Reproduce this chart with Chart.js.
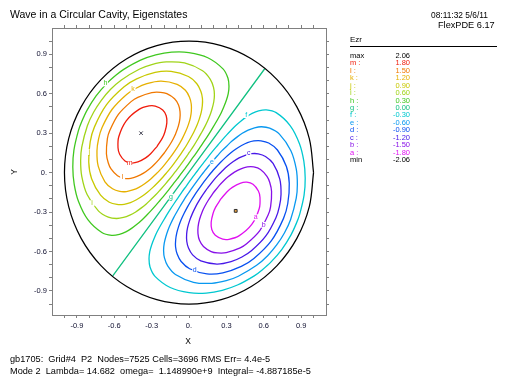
<!DOCTYPE html>
<html><head><meta charset="utf-8">
<script src="https://cdn.jsdelivr.net/npm/chart.js@4/dist/chart.umd.min.js"></script>
<style>html,body{margin:0;padding:0;background:#fff;}canvas{display:block;}</style>
</head><body>
<canvas id="c" width="512" height="384"></canvas>
<script>
const titleText = 'Wave in a Circular Cavity, Eigenstates';
const stampLines = ['08:11:32 5/6/11', 'FlexPDE 6.17'];
const footerLines = ['gb1705:  Grid#4  P2  Nodes=7525 Cells=3696 RMS Err= 4.4e-5',
                     'Mode 2  Lambda= 14.682  omega=  1.148990e+9  Integral= -4.887185e-5'];
const xTitle = 'X', yTitle = 'Y';
const legendTitle = 'Ezr';
const fieldMax = '2.06', fieldMin = '-2.06';
const levelLetters = ['m','l','k','j','i','h','g','f','e','d','c','b','a'];
const levelValues = ['1.80','1.50','1.20','0.90','0.60','0.30','0.00','-0.30','-0.60','-0.90','-1.20','-1.50','-1.80'];
const levelColors = ['#f01c0c','#f07800','#e6b000','#c8c800','#a0d418','#40c820','#10c080','#00c8d0','#0898f0','#0850f0','#4818e8','#8810e8','#e010f0'];
const tickValues = [-1.0,-0.9,-0.8,-0.7,-0.6,-0.5,-0.4,-0.3,-0.2,-0.1,0,0.1,0.2,0.3,0.4,0.5,0.6,0.7,0.8,0.9,1.0];
const majorTicks = [-0.9,-0.6,-0.3,0,0.3,0.6,0.9];
const majorLabels = ['-0.9','-0.6','-0.3','0.','0.3','0.6','0.9'];

const boundary = [[1,0],[0.966,0.259],[0.866,0.5],[0.707,0.707],[0.5,0.866],[0.259,0.966],[0,1],[-0.259,0.966],[-0.5,0.866],[-0.707,0.707],[-0.866,0.5],[-0.966,0.259],[-1,0],[-0.966,-0.259],[-0.866,-0.5],[-0.707,-0.707],[-0.5,-0.866],[-0.259,-0.966],[0,-1],[0.259,-0.966],[0.5,-0.866],[0.707,-0.707],[0.866,-0.5],[0.966,-0.259],[1,0]];

const contourM = [[-0.256,0.200],[-0.308,0.143],[-0.348,0.112],[-0.410,0.081],[-0.464,0.073],[-0.514,0.089],[-0.557,0.140],[-0.570,0.189],[-0.564,0.273],[-0.504,0.394],[-0.401,0.481],[-0.321,0.507],[-0.271,0.506],[-0.211,0.477],[-0.183,0.433],[-0.178,0.378],[-0.193,0.311],[-0.213,0.264],[-0.256,0.200]];
const contourL = [[-0.196,0.153],[-0.242,0.099],[-0.281,0.060],[-0.311,0.034],[-0.365,-0.004],[-0.417,-0.029],[-0.468,-0.043],[-0.520,-0.043],[-0.574,-0.024],[-0.626,0.028],[-0.648,0.073],[-0.663,0.143],[-0.655,0.260],[-0.636,0.321],[-0.567,0.443],[-0.465,0.540],[-0.411,0.573],[-0.299,0.609],[-0.228,0.611],[-0.178,0.601],[-0.116,0.562],[-0.084,0.515],[-0.072,0.464],[-0.073,0.411],[-0.085,0.355],[-0.108,0.294],[-0.126,0.258],[-0.155,0.210],[-0.196,0.153]];
const contourK = [[-0.149,0.117],[-0.202,0.053],[-0.234,0.019],[-0.261,-0.007],[-0.309,-0.050],[-0.356,-0.084],[-0.402,-0.112],[-0.451,-0.132],[-0.502,-0.144],[-0.556,-0.143],[-0.614,-0.123],[-0.675,-0.070],[-0.729,0.049],[-0.739,0.165],[-0.726,0.257],[-0.698,0.343],[-0.617,0.482],[-0.501,0.595],[-0.425,0.642],[-0.338,0.677],[-0.224,0.696],[-0.095,0.672],[-0.029,0.626],[0.004,0.574],[0.018,0.522],[0.019,0.469],[0.011,0.417],[-0.005,0.365],[-0.027,0.312],[-0.056,0.255],[-0.075,0.223],[-0.101,0.183],[-0.149,0.117]];
const contourJ = [[-0.108,0.085],[-0.154,0.028],[-0.183,-0.005],[-0.207,-0.031],[-0.250,-0.075],[-0.292,-0.114],[-0.334,-0.149],[-0.377,-0.180],[-0.422,-0.206],[-0.470,-0.228],[-0.521,-0.241],[-0.578,-0.242],[-0.640,-0.225],[-0.710,-0.172],[-0.782,-0.047],[-0.805,0.080],[-0.793,0.235],[-0.759,0.348],[-0.662,0.517],[-0.521,0.653],[-0.420,0.713],[-0.272,0.762],[-0.144,0.770],[-0.005,0.731],[0.063,0.676],[0.095,0.619],[0.108,0.564],[0.107,0.511],[0.098,0.459],[0.083,0.409],[0.064,0.360],[0.040,0.311],[0.012,0.261],[-0.020,0.208],[-0.040,0.178],[-0.065,0.143],[-0.108,0.085]];
const contourI = [[-0.071,0.055],[-0.104,0.014],[-0.129,-0.017],[-0.151,-0.043],[-0.190,-0.087],[-0.228,-0.128],[-0.265,-0.167],[-0.304,-0.203],[-0.343,-0.238],[-0.385,-0.270],[-0.428,-0.299],[-0.475,-0.323],[-0.526,-0.341],[-0.582,-0.349],[-0.648,-0.338],[-0.726,-0.293],[-0.818,-0.167],[-0.861,-0.028],[-0.870,0.091],[-0.861,0.194],[-0.816,0.356],[-0.766,0.459],[-0.704,0.550],[-0.631,0.632],[-0.543,0.705],[-0.396,0.788],[-0.299,0.822],[-0.182,0.842],[-0.036,0.834],[0.109,0.775],[0.171,0.710],[0.197,0.649],[0.204,0.592],[0.199,0.539],[0.186,0.488],[0.169,0.438],[0.148,0.391],[0.124,0.344],[0.097,0.298],[0.069,0.252],[0.039,0.205],[0.005,0.157],[-0.015,0.130],[-0.039,0.097],[-0.071,0.055]];
const contourH = [[-0.035,0.027],[-0.052,0.006],[-0.075,-0.023],[-0.093,-0.046],[-0.129,-0.089],[-0.163,-0.131],[-0.197,-0.171],[-0.232,-0.210],[-0.267,-0.249],[-0.303,-0.287],[-0.340,-0.324],[-0.378,-0.360],[-0.418,-0.393],[-0.461,-0.424],[-0.507,-0.451],[-0.559,-0.470],[-0.621,-0.477],[-0.700,-0.456],[-0.812,-0.358],[-0.887,-0.220],[-0.922,-0.087],[-0.933,0.043],[-0.924,0.171],[-0.888,0.319],[-0.861,0.388],[-0.818,0.475],[-0.746,0.583],[-0.659,0.679],[-0.585,0.742],[-0.524,0.785],[-0.389,0.855],[-0.267,0.895],[-0.139,0.916],[-0.001,0.913],[0.151,0.874],[0.273,0.789],[0.313,0.718],[0.321,0.656],[0.315,0.601],[0.300,0.550],[0.280,0.501],[0.258,0.454],[0.232,0.408],[0.205,0.364],[0.177,0.320],[0.148,0.276],[0.118,0.233],[0.087,0.190],[0.056,0.146],[0.022,0.102],[0.004,0.078],[-0.018,0.049],[-0.035,0.027]];
const contourG = [[-0.612,-0.786],[0.608,0.790]];
const contourF = [[0.035,-0.027],[0.052,-0.006],[0.075,0.023],[0.093,0.046],[0.129,0.089],[0.163,0.131],[0.197,0.171],[0.232,0.210],[0.267,0.249],[0.303,0.287],[0.340,0.324],[0.378,0.360],[0.418,0.393],[0.461,0.424],[0.507,0.451],[0.559,0.470],[0.621,0.477],[0.700,0.456],[0.812,0.358],[0.887,0.220],[0.922,0.087],[0.933,-0.043],[0.924,-0.171],[0.888,-0.319],[0.861,-0.388],[0.818,-0.475],[0.746,-0.583],[0.659,-0.679],[0.585,-0.742],[0.524,-0.785],[0.389,-0.855],[0.267,-0.895],[0.139,-0.916],[0.001,-0.913],[-0.151,-0.874],[-0.273,-0.789],[-0.313,-0.718],[-0.321,-0.656],[-0.315,-0.601],[-0.300,-0.550],[-0.280,-0.501],[-0.258,-0.454],[-0.232,-0.408],[-0.205,-0.364],[-0.177,-0.320],[-0.148,-0.276],[-0.118,-0.233],[-0.087,-0.190],[-0.056,-0.146],[-0.022,-0.102],[-0.004,-0.078],[0.018,-0.049],[0.035,-0.027]];
const contourE = [[0.071,-0.055],[0.104,-0.014],[0.129,0.017],[0.151,0.043],[0.190,0.087],[0.228,0.128],[0.265,0.167],[0.304,0.203],[0.343,0.238],[0.385,0.270],[0.428,0.299],[0.475,0.323],[0.526,0.341],[0.582,0.349],[0.648,0.338],[0.726,0.293],[0.818,0.167],[0.861,0.028],[0.870,-0.091],[0.861,-0.194],[0.816,-0.356],[0.766,-0.459],[0.704,-0.550],[0.631,-0.632],[0.543,-0.705],[0.396,-0.788],[0.299,-0.822],[0.182,-0.842],[0.036,-0.834],[-0.109,-0.775],[-0.171,-0.710],[-0.197,-0.649],[-0.204,-0.592],[-0.199,-0.539],[-0.186,-0.488],[-0.169,-0.438],[-0.148,-0.391],[-0.124,-0.344],[-0.097,-0.298],[-0.069,-0.252],[-0.039,-0.205],[-0.005,-0.157],[0.015,-0.130],[0.039,-0.097],[0.071,-0.055]];
const contourD = [[0.108,-0.085],[0.154,-0.028],[0.183,0.005],[0.207,0.031],[0.250,0.075],[0.292,0.114],[0.334,0.149],[0.377,0.180],[0.422,0.206],[0.470,0.228],[0.521,0.241],[0.578,0.242],[0.640,0.225],[0.710,0.172],[0.782,0.047],[0.805,-0.080],[0.793,-0.235],[0.759,-0.348],[0.662,-0.517],[0.521,-0.653],[0.420,-0.713],[0.272,-0.762],[0.144,-0.770],[0.005,-0.731],[-0.063,-0.676],[-0.095,-0.619],[-0.108,-0.564],[-0.107,-0.511],[-0.098,-0.459],[-0.083,-0.409],[-0.064,-0.360],[-0.040,-0.311],[-0.012,-0.261],[0.020,-0.208],[0.040,-0.178],[0.065,-0.143],[0.108,-0.085]];
const contourC = [[0.149,-0.117],[0.202,-0.053],[0.234,-0.019],[0.261,0.007],[0.309,0.050],[0.356,0.084],[0.402,0.112],[0.451,0.132],[0.502,0.144],[0.556,0.143],[0.614,0.123],[0.675,0.070],[0.729,-0.049],[0.739,-0.165],[0.726,-0.257],[0.698,-0.343],[0.617,-0.482],[0.501,-0.595],[0.425,-0.642],[0.338,-0.677],[0.224,-0.696],[0.095,-0.672],[0.029,-0.626],[-0.004,-0.574],[-0.018,-0.522],[-0.019,-0.469],[-0.011,-0.417],[0.005,-0.365],[0.027,-0.312],[0.056,-0.255],[0.075,-0.223],[0.101,-0.183],[0.149,-0.117]];
const contourB = [[0.196,-0.153],[0.242,-0.099],[0.281,-0.060],[0.311,-0.034],[0.365,0.004],[0.417,0.029],[0.468,0.043],[0.520,0.043],[0.574,0.024],[0.626,-0.028],[0.648,-0.073],[0.663,-0.143],[0.655,-0.260],[0.636,-0.321],[0.567,-0.443],[0.465,-0.540],[0.411,-0.573],[0.299,-0.609],[0.228,-0.611],[0.178,-0.601],[0.116,-0.562],[0.084,-0.515],[0.072,-0.464],[0.073,-0.411],[0.085,-0.355],[0.108,-0.294],[0.126,-0.258],[0.155,-0.210],[0.196,-0.153]];
const contourA = [[0.256,-0.200],[0.308,-0.143],[0.348,-0.112],[0.410,-0.081],[0.464,-0.073],[0.514,-0.089],[0.557,-0.140],[0.570,-0.189],[0.564,-0.273],[0.504,-0.394],[0.401,-0.481],[0.321,-0.507],[0.271,-0.506],[0.211,-0.477],[0.183,-0.433],[0.178,-0.378],[0.193,-0.311],[0.213,-0.264],[0.256,-0.200]];

const contours = [contourM, contourL, contourK, contourJ, contourI, contourH, contourG, contourF, contourE, contourD, contourC, contourB, contourA];
// label positions on each contour (same order as levelLetters)
const labelPositions = [[-0.476,0.071],[-0.533,-0.036],[-0.449,0.633],[-0.800,0.157],[-0.778,-0.233],[-0.671,0.679],[-0.144,-0.183],[0.459,0.438],[0.185,0.083],[0.046,-0.741],[0.480,0.147],[0.600,-0.398],[0.536,-0.340]];
const maxPoint = [[-0.385,0.300]];
const minPoint = [[0.375,-0.291]];

const FONT = "'Liberation Sans', Arial, sans-serif";
const AXIS_GRAY = '#808080';
const TICK_TEXT = '#101030';

function labelFor(v) {
  for (let i = 0; i < majorTicks.length; i++) {
    if (Math.abs(majorTicks[i] - v) < 1e-6) return majorLabels[i];
  }
  return '';
}
function setTicks(scale) { scale.ticks = tickValues.map(v => ({ value: v })); }

const datasets = [];
datasets.push({ data: boundary, showLine: true, borderColor: '#000', borderWidth: 1.25, pointRadius: 0, tension: 0.34, fill: false });
contours.forEach((c, i) => {
  datasets.push({ data: c, showLine: true, borderColor: levelColors[i], borderWidth: 1.3, pointRadius: 0, tension: 0.3, fill: false });
});
datasets.push({ data: maxPoint, showLine: false, pointStyle: 'crossRot', pointRadius: 2.5, borderColor: '#404050', borderWidth: 1 });
datasets.push({ data: minPoint, showLine: false, pointStyle: 'rect', pointRadius: 2, borderColor: '#303030', backgroundColor: '#e8a040', borderWidth: 1 });

const decor = {
  id: 'decor',
  afterDatasetsDraw(chart) {
    const ctx = chart.ctx;
    const xs = chart.scales.x, ys = chart.scales.y;
    ctx.save();
    ctx.font = '7px ' + FONT;
    ctx.textAlign = 'center';
    ctx.textBaseline = 'middle';
    labelPositions.forEach((p, i) => {
      const px = xs.getPixelForValue(p[0]), py = ys.getPixelForValue(p[1]);
      ctx.fillStyle = '#fff';
      ctx.fillRect(px - 2.5, py - 3, 5, 6);
      ctx.fillStyle = levelColors[i];
      ctx.fillText(levelLetters[i], px, py);
    });
    ctx.restore();
  },
  afterDraw(chart) {
    const ctx = chart.ctx;
    ctx.save();
    ctx.fillStyle = '#000';
    ctx.textBaseline = 'middle';
    ctx.textAlign = 'left';
    ctx.font = '10.5px ' + FONT;
    ctx.fillText(titleText, 10, 15.5);
    ctx.font = '8.4px ' + FONT;
    ctx.fillText(stampLines[0], 431, 15.7);
    ctx.font = '9.2px ' + FONT;
    ctx.fillText(stampLines[1], 438, 25.3);
    // footer
    ctx.font = '9.2px ' + FONT;
    ctx.fillText(footerLines[0], 10, 359);
    ctx.fillText(footerLines[1], 10, 371);
    // axis titles
    ctx.font = '8.5px ' + FONT;
    ctx.textAlign = 'center';
    ctx.fillText(xTitle, 188, 342);
    ctx.save();
    ctx.translate(15, 172);
    ctx.rotate(-Math.PI / 2);
    ctx.fillText(yTitle, 0, 0);
    ctx.restore();
    // legend
    ctx.textAlign = 'left';
    ctx.font = '8px ' + FONT;
    ctx.fillText(legendTitle, 350, 40);
    ctx.strokeStyle = '#000';
    ctx.lineWidth = 1;
    ctx.beginPath();
    ctx.moveTo(350, 46.5);
    ctx.lineTo(497, 46.5);
    ctx.stroke();
    ctx.font = '7.5px ' + FONT;
    const rowY = i => 55.7 + i * 7.46;
    const rows = [['max', fieldMax, '#000']];
    levelLetters.forEach((l, i) => rows.push([l + ' :', levelValues[i], levelColors[i]]));
    rows.push(['min', fieldMin, '#000']);
    rows.forEach((r, i) => {
      ctx.fillStyle = r[2];
      ctx.textAlign = 'left';
      ctx.fillText(r[0], 350, rowY(i));
      ctx.textAlign = 'right';
      ctx.fillText(r[1], 410, rowY(i));
    });
    ctx.restore();
  }
};

const gridOpts = { drawOnChartArea: false, drawTicks: true, tickLength: 3, color: AXIS_GRAY, tickColor: AXIS_GRAY };
const borderOpts = { display: true, color: AXIS_GRAY, width: 1 };

new Chart(document.getElementById('c'), {
  type: 'scatter',
  data: { datasets },
  options: {
    responsive: false,
    devicePixelRatio: 1,
    animation: false,
    events: [],
    layout: { padding: { left: 0, right: 180, top: 22, bottom: 49 } },
    plugins: { legend: { display: false }, tooltip: { enabled: false }, title: { display: false } },
    scales: {
      x: {
        type: 'linear', position: 'bottom', min: -1.1, max: 1.1,
        afterBuildTicks: setTicks,
        afterFit: s => { s.height = 20; },
        ticks: { autoSkip: false, maxRotation: 0, padding: 3, color: TICK_TEXT, font: { family: FONT, size: 7.5 }, callback: v => labelFor(v) },
        grid: gridOpts, border: borderOpts
      },
      x2: {
        type: 'linear', position: 'top', min: -1.1, max: 1.1,
        afterBuildTicks: setTicks,
        afterFit: s => { s.height = 6; },
        ticks: { display: false },
        grid: gridOpts, border: borderOpts
      },
      y: {
        type: 'linear', position: 'left', min: -1.083, max: 1.1,
        afterBuildTicks: setTicks,
        afterFit: s => { s.width = 52; },
        ticks: { autoSkip: false, padding: 2, color: TICK_TEXT, font: { family: FONT, size: 7.5 }, callback: v => labelFor(v) },
        grid: gridOpts, border: borderOpts
      },
      y2: {
        type: 'linear', position: 'right', min: -1.083, max: 1.1,
        afterBuildTicks: setTicks,
        afterFit: s => { s.width = 6; },
        ticks: { display: false },
        grid: gridOpts, border: borderOpts
      }
    }
  },
  plugins: [decor]
});
</script>
</body></html>
